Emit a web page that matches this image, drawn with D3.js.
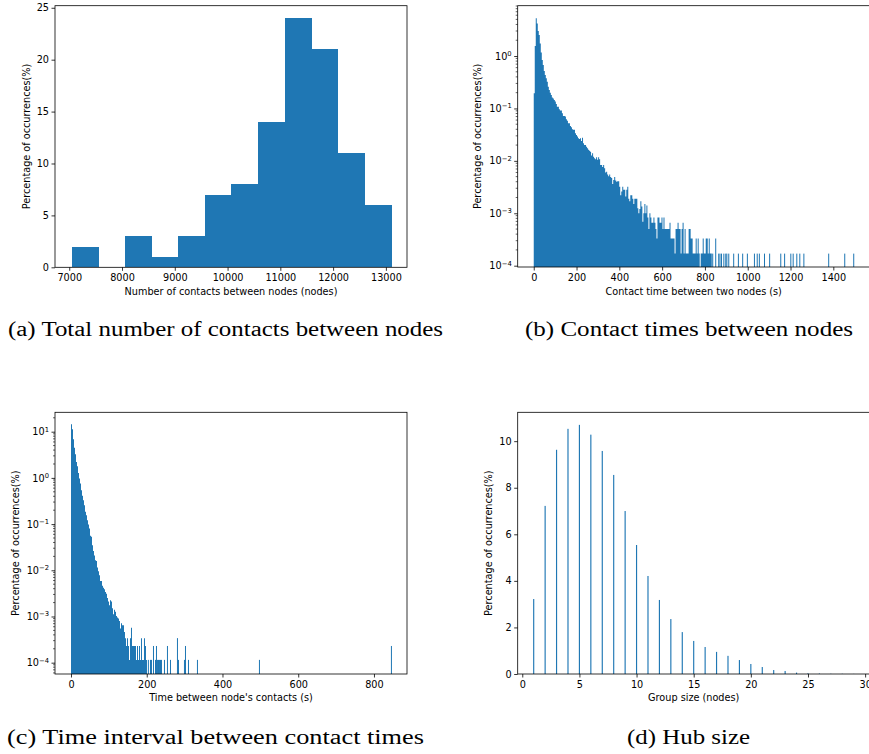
<!DOCTYPE html>
<html>
<head>
<meta charset="utf-8">
<script src="https://cdn.jsdelivr.net/npm/d3@7"></script>
<style>
  body { margin: 0; background: #fff; }
  svg text { font-family: "DejaVu Sans", sans-serif; fill: #000; }
  .caption { font-family: "Liberation Serif", serif; }
</style>
</head>
<body>
<svg id="chart" width="869" height="754"></svg>
<script>
// (a) number of contacts per node, 12 bins
const contactBinStart = 7050;
const contactBinWidth = 504;
const contactPct = [2, 0, 3, 1, 3, 7, 8, 14, 24, 21, 11, 6];

// (b) contact time between two nodes (s), bins
const durBinWidth = 4.7;
const durDensePct = [
  0.194, 1.55, 5.25, 4.17, 3.0, 2.51, 1.74, 1.17, 0.84, 0.676,
  0.518, 0.435, 0.375, 0.324, 0.26, 0.224, 0.2, 0.18, 0.162, 0.155,
  0.145, 0.135, 0.122, 0.108, 0.108, 0.096, 0.091, 0.091, 0.081, 0.072,
  0.072, 0.07, 0.062, 0.058, 0.052, 0.052, 0.046, 0.044, 0.04, 0.039,
  0.039, 0.0335, 0.031, 0.029, 0.027, 0.026, 0.027, 0.024, 0.0275, 0.0216,
  0.02, 0.02, 0.0186, 0.0174, 0.0162, 0.0156, 0.015, 0.0126, 0.0139, 0.012,
  0.0112, 0.0107, 0.0117, 0.0105, 0.0117, 0.0107, 0.0083, 0.0083, 0.0076, 0.0083,
  0.0072, 0.006, 0.0062, 0.0055, 0.0051, 0.0055, 0.0049, 0.0047, 0.0036, 0.0043,
  0.0049, 0.0042, 0.004, 0.0041, 0.0041, 0.0032, 0.0022, 0.0026, 0.0032, 0.0028,
  0.0028, 0.0021, 0.0028, 0.0032, 0.0019, 0.0017, 0.0022, 0.0022, 0.0019, 0.0015,
  0.0019, 0.0019, 0.0019, 0.00125, 0.001, 0.0012, 0.0017, 0.00135, 0.00069, 0.001,
  0.0015, 0.001, 0.0014, 0.00083,
  0.0005, 0.001, 0.00083, 0.00066, 0.00066, 0.00083, 0.00066, 0.0005, 0.00033, 0.00083,
  0.00083, 0.00066, 0.00066, 0.00083, 0.0005, 0.00083, 0.0005, 0.0005, 0.0005, 0.0005,
  0.0005, 0.00066, 0.00033, 0.00033, 0.00033, 0.00033, 0.00017, 0.0005, 0.0005, 0.00066,
  0.0005, 0.0005, 0.00017, 0.0005, 0.00066, 0.00017, 0.0005, 0.00017, 0.00017, 0.00017,
  0.0005, 0.0005, 0.00033, 0.00033, 0.00017, 0.00017, 0.00017, 0.00033, 0.00017, 0.00033,
  0.00017, 0, 0.00017, 0.00017, 0.00033, 0.00017, 0.00017, 0.00033, 0.00033, 0.00017,
  0.00033, 0.00017, 0.00017
];
// the sparse single bars further out
const durTailSec = [834, 848, 862, 868, 875, 886, 895, 900, 909, 932, 954, 974, 996, 1029,
  1042, 1052, 1076, 1100, 1152, 1170, 1199, 1210, 1227, 1241, 1260, 1376, 1451, 1493];
const durTailPct = [0.00017, 0.00033, 0.00017, 0.00017, 0.00017, 0.00017, 0.00017, 0.00017,
  0.00017, 0.00017, 0.00017, 0.00017, 0.00017, 0.00017, 0.00017, 0.00017, 0.00017, 0.00017,
  0.00017, 0.00017, 0.00017, 0.00017, 0.00017, 0.00017, 0.00017, 0.00017, 0.00017, 0.00017];

// (c) time between a node's contacts (s)
const gapBinWidth = 2.64;
const gapDensePct = [
  14.5, 11.3, 6.9, 4.47, 3.26, 2.22, 1.79, 1.28, 0.97, 0.76,
  0.54, 0.41, 0.33, 0.257, 0.184, 0.156, 0.121, 0.098, 0.08, 0.056,
  0.053, 0.035, 0.026, 0.021, 0.0165, 0.0158, 0.0115, 0.0095, 0.0078, 0.0059,
  0.0059, 0.0046, 0.0042, 0.0039, 0.0034, 0.0031, 0.0025, 0.0021, 0.00176, 0.00225,
  0.0021, 0.0015, 0.00112, 0.0014, 0.00126, 0.00102, 0.00095, 0.00091, 0.0008, 0.00055,
  0.00071, 0.00065, 0.00065, 0.00046, 0.00034, 0.00023, 0.00034, 0.00023, 0.000115, 0.00034,
  0.00057, 0.00023, 0.00023, 0.00023, 0.00023, 0.000115, 0.00023, 0.000115, 0.00023, 0.000115,
  0.00034, 0.000115, 0.000115, 0.00034, 0.00023, 0.000115
];
const gapTailSec = [203, 208.6, 211.2, 216.5, 221.8, 224.4, 227, 229.7, 232.3, 235, 237.6,
  245.5, 253.4, 261.4, 279.8, 282.5, 298.3, 301, 308.9, 332.6, 496.3, 844.8];
const gapTailPct = [0.000115, 0.000115, 0.000115, 0.00023, 0.000115, 0.00023, 0.000115,
  0.000115, 0.000115, 0.000115, 0.000115, 0.000115, 0.00023, 0.000115, 0.00034, 0.000115,
  0.000115, 0.00023, 0.000115, 0.000115, 0.000115, 0.00023];

// (d) hub size
const hubSize = d3.range(1, 30);
const hubPct = [3.22, 7.22, 9.63, 10.53, 10.7, 10.28, 9.58, 8.55, 7.0, 5.54,
  4.21, 3.18, 2.36, 1.8, 1.42, 1.16, 0.95, 0.78, 0.6, 0.43,
  0.3, 0.17, 0.13, 0.06, 0.03, 0.02, 0.01, 0.01, 0.005];

const captions = [
  "(a) Total number of contacts between nodes",
  "(b) Contact times between nodes",
  "(c) Time interval between contact times",
  "(d) Hub size"
];

const blue = "#1f77b4";
const fontPx = 9.7;
const svg = d3.select("#chart");

// plot boxes (left, top, width, height) of the four panels
const boxes = [
  { left: 55, top: 5.7, w: 352, h: 261.6 },
  { left: 517.7, top: 5.7, w: 352, h: 261.3 },
  { left: 55, top: 412.3, w: 352, h: 261.7 },
  { left: 517.7, top: 412.3, w: 352, h: 261.7 }
];

// little helper so the log tick labels look like 10^k
function powerLabels(axisG) {
  axisG.selectAll(".tick text").each(function(d) {
    const t = d3.select(this);
    const k = Math.round(Math.log10(d));
    t.text("10");
    t.append("tspan")
      .attr("dy", "-0.55em")
      .style("font-size", "0.7em")
      .text(String(k).replace("-", "\u2212"));
  });
}

function styleAxis(g) {
  g.select(".domain").remove();
  g.selectAll(".tick line").attr("stroke", "#000").attr("stroke-width", 0.8);
  g.selectAll(".tick text").style("font-size", fontPx + "px");
}

function drawFrame(g, b) {
  g.append("rect")
    .attr("x", 0).attr("y", 0)
    .attr("width", b.w).attr("height", b.h)
    .attr("fill", "none")
    .attr("stroke", "#000")
    .attr("stroke-width", 0.8);
}

function minorLogTicks(g, y, lo, hi) {
  const vals = [];
  for (let k = lo; k <= hi; k++) {
    for (let m = 2; m <= 9; m++) vals.push(m * Math.pow(10, k));
  }
  const [d0, d1] = y.domain();
  g.selectAll(".minor")
    .data(vals.filter(v => v > d0 && v < d1))
    .enter()
    .append("line")
    .attr("x1", 0).attr("x2", -2)
    .attr("y1", d => y(d)).attr("y2", d => y(d))
    .attr("stroke", "#000")
    .attr("stroke-width", 0.6);
}

// dense histogram part drawn as one stepped area, so adjacent bins have no seams
function denseHist(g, x, y, b, vals, binW) {
  const pts = vals.map((v, i) => ({ s: i * binW, v: v }));
  pts.push({ s: vals.length * binW, v: 0 });
  const area = d3.area()
    .curve(d3.curveStepAfter)
    .x(d => x(d.s))
    .y0(b.h)
    .y1(d => d.v > 0 ? y(d.v) : b.h);
  g.append("path")
    .datum(pts)
    .attr("d", area)
    .attr("fill", blue);
}

function labels(g, b, xText, yText, yLabelX, xLabelY) {
  g.append("text")
    .attr("x", b.w / 2)
    .attr("y", xLabelY)
    .attr("text-anchor", "middle")
    .style("font-size", fontPx + "px")
    .text(xText);
  g.append("text")
    .attr("transform", `translate(${yLabelX},${b.h / 2}) rotate(-90)`)
    .attr("text-anchor", "middle")
    .style("font-size", fontPx + "px")
    .text(yText);
}

const yLab = "Percentage of occurrences(%)";

// ---------- (a) ----------
{
  const b = boxes[0];
  const g = svg.append("g").attr("transform", `translate(${b.left},${b.top})`);
  const x = d3.scaleLinear().domain([6730, 13400]).range([0, b.w]);
  const y = d3.scaleLinear().domain([0, 25.2]).range([b.h, 0]);

  g.selectAll(".bar")
    .data(contactPct)
    .enter()
    .append("rect")
    .attr("x", (d, i) => x(contactBinStart + i * contactBinWidth))
    .attr("width", x(contactBinStart + contactBinWidth) - x(contactBinStart) + 0.5)
    .attr("y", d => y(d))
    .attr("height", d => y(0) - y(d))
    .attr("fill", blue)
    .attr("shape-rendering", "crispEdges");

  const xa = g.append("g").attr("transform", `translate(0,${b.h})`)
    .call(d3.axisBottom(x).tickValues(d3.range(7000, 13001, 1000)).tickFormat(d3.format("d")).tickSize(3.5).tickPadding(3.5));
  styleAxis(xa);
  const ya = g.append("g")
    .call(d3.axisLeft(y).tickValues([0, 5, 10, 15, 20, 25]).tickSize(3.5).tickPadding(2.5));
  styleAxis(ya);
  drawFrame(g, b);
  labels(g, b, "Number of contacts between nodes (nodes)", yLab, 30 - b.left, 295 - b.top);
}

// ---------- (b) ----------
{
  const b = boxes[1];
  const g = svg.append("g").attr("transform", `translate(${b.left},${b.top})`);
  const x = d3.scaleLinear().domain([-75, 1570]).range([0, b.w]);
  const y = d3.scaleLog().domain([Math.pow(10, -4.025), Math.pow(10, 0.96)]).range([b.h, 0]);
  const bw = x(durBinWidth) - x(0);

  denseHist(g, x, y, b, durDensePct, durBinWidth);
  g.selectAll(".tail")
    .data(durTailSec)
    .enter()
    .append("rect")
    .attr("x", d => x(d))
    .attr("width", bw)
    .attr("y", (d, i) => y(durTailPct[i]))
    .attr("height", (d, i) => b.h - y(durTailPct[i]))
    .attr("fill", blue);

  const xa = g.append("g").attr("transform", `translate(0,${b.h})`)
    .call(d3.axisBottom(x).tickValues(d3.range(0, 1401, 200)).tickFormat(d3.format("d")).tickSize(3.5).tickPadding(3.5));
  styleAxis(xa);
  const ya = g.append("g")
    .call(d3.axisLeft(y).tickValues([1e-4, 1e-3, 1e-2, 1e-1, 1]).tickSize(3.5).tickPadding(2.5));
  styleAxis(ya);
  powerLabels(ya);
  minorLogTicks(g, y, -5, 0);
  drawFrame(g, b);
  labels(g, b, "Contact time between two nodes (s)", yLab, 481 - b.left, 295 - b.top);
}

// ---------- (c) ----------
{
  const b = boxes[2];
  const g = svg.append("g").attr("transform", `translate(${b.left},${b.top})`);
  const x = d3.scaleLinear().domain([-42.25, 887.25]).range([0, b.w]);
  const y = d3.scaleLog().domain([Math.pow(10, -4.245), Math.pow(10, 1.42)]).range([b.h, 0]);
  const bw = x(gapBinWidth) - x(0);

  denseHist(g, x, y, b, gapDensePct, gapBinWidth);
  g.selectAll(".tail")
    .data(gapTailSec)
    .enter()
    .append("rect")
    .attr("x", d => x(d))
    .attr("width", bw)
    .attr("y", (d, i) => y(gapTailPct[i]))
    .attr("height", (d, i) => b.h - y(gapTailPct[i]))
    .attr("fill", blue);

  const xa = g.append("g").attr("transform", `translate(0,${b.h})`)
    .call(d3.axisBottom(x).tickValues(d3.range(0, 801, 200)).tickFormat(d3.format("d")).tickSize(3.5).tickPadding(3.5));
  styleAxis(xa);
  const ya = g.append("g")
    .call(d3.axisLeft(y).tickValues([1e-4, 1e-3, 1e-2, 1e-1, 1, 10]).tickSize(3.5).tickPadding(2.5));
  styleAxis(ya);
  powerLabels(ya);
  minorLogTicks(g, y, -5, 1);
  drawFrame(g, b);
  labels(g, b, "Time between node's contacts (s)", yLab, 18.5 - b.left, 701.5 - b.top);
}

// ---------- (d) ----------
{
  const b = boxes[3];
  const g = svg.append("g").attr("transform", `translate(${b.left},${b.top})`);
  const x = d3.scaleLinear().domain([-0.4, 30.4]).range([0, b.w]);
  const y = d3.scaleLinear().domain([0, 11.24]).range([b.h, 0]);
  const barW = x(0.1) - x(0);

  g.selectAll(".bar")
    .data(hubPct)
    .enter()
    .append("rect")
    .attr("x", (d, i) => x(hubSize[i]) - barW / 2)
    .attr("width", barW)
    .attr("y", d => y(d))
    .attr("height", d => y(0) - y(d))
    .attr("fill", blue);

  const xa = g.append("g").attr("transform", `translate(0,${b.h})`)
    .call(d3.axisBottom(x).tickValues(d3.range(0, 31, 5)).tickSize(3.5).tickPadding(3.5));
  styleAxis(xa);
  const ya = g.append("g")
    .call(d3.axisLeft(y).tickValues([0, 2, 4, 6, 8, 10]).tickSize(3.5).tickPadding(2.5));
  styleAxis(ya);
  drawFrame(g, b);
  labels(g, b, "Group size (nodes)", yLab, 492 - b.left, 701.5 - b.top);
}

// sub-figure captions
const capPos = [
  { cx: 225.5, y: 336, len: 435 },
  { cx: 689, y: 336, len: 328 },
  { cx: 215.5, y: 744, len: 417 },
  { cx: 688.5, y: 744, len: 123 }
];
svg.selectAll(".caption")
  .data(captions)
  .enter()
  .append("text")
  .attr("class", "caption")
  .attr("x", (d, i) => capPos[i].cx)
  .attr("y", (d, i) => capPos[i].y)
  .attr("text-anchor", "middle")
  .attr("textLength", (d, i) => capPos[i].len)
  .attr("lengthAdjust", "spacingAndGlyphs")
  .style("font-size", "20px")
  .text(d => d);
</script>
</body>
</html>
